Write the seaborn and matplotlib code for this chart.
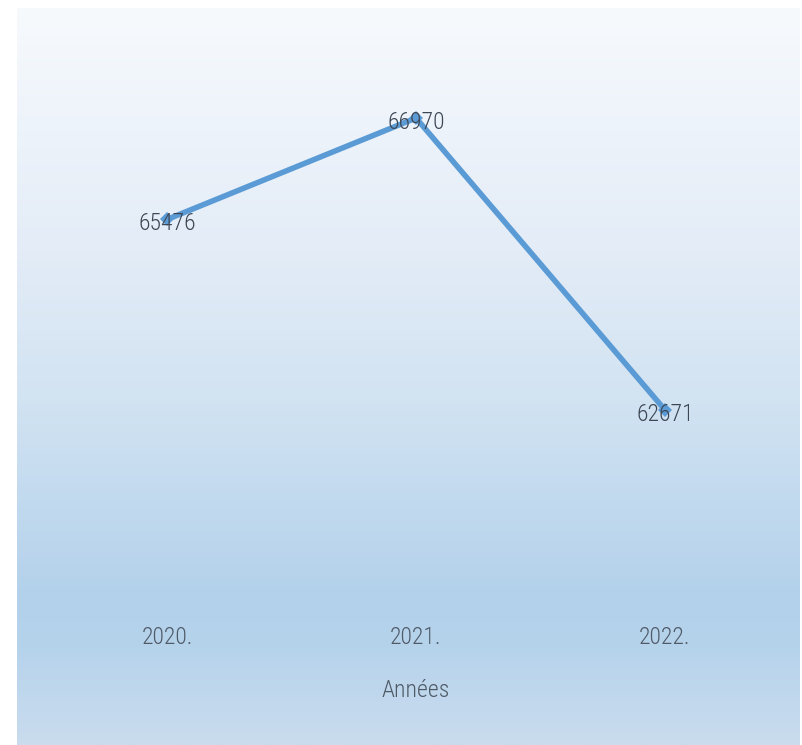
import numpy as np
import pandas as pd
import matplotlib
matplotlib.use("Agg")
import matplotlib.pyplot as plt
from matplotlib.colors import LinearSegmentedColormap
from matplotlib import font_manager
import seaborn as sns

# Yearly totals
years = ["2020.", "2021.", "2022."]
totals = [65476, 66970, 62671]
axis_title = "Années"

df = pd.DataFrame({"annee": years, "total": totals})

sns.set_theme(style="white")
names = {f.name for f in font_manager.fontManager.ttflist}
light_narrow = [n for n in ["Liberation Sans Narrow", "Open Sans Condensed Light",
                            "Roboto Condensed Light", "Roboto Condensed"] if n in names]
plt.rcParams["font.family"] = light_narrow + ["DejaVu Sans"]

W, H = 803, 745
fig = plt.figure(figsize=(W / 100, H / 100), dpi=100)
fig.patch.set_facecolor("white")

# Vertical gradient panel behind the chart
bg = fig.add_axes([17 / W, 0, (800 - 17) / W, (H - 8) / H], zorder=0)
bg_cmap = LinearSegmentedColormap.from_list(
    "panel",
    [(0.0, "#f7fafd"), (0.33, "#e3ecf7"), (0.53, "#d2e3f2"),
     (0.80, "#b3d1eb"), (0.87, "#b6d3ec"), (1.0, "#cadcee")],
)
bg.imshow(np.linspace(0, 1, 256).reshape(-1, 1), aspect="auto", cmap=bg_cmap,
          extent=[0, 1, 1, 0])
bg.set_axis_off()

# Plot area
left, right = 42.5, 789.5
top, bottom = 30, 600
ax = fig.add_axes([left / W, (H - bottom) / H, (right - left) / W, (bottom - top) / H],
                  zorder=1)
ax.patch.set_alpha(0)

sns.lineplot(data=df, x="annee", y="total", ax=ax, color="#5b9bd5", linewidth=4,
             marker="D", markersize=7, markeredgewidth=0, sort=False)

txt = dict(fontstretch="condensed", fontweight="light", fontsize=17)
if not light_narrow:
    txt = dict(fontstretch="condensed", fontweight="normal", fontsize=15)
for i, v in enumerate(totals):
    ax.annotate(str(v), (i, v), xytext=(0, -3), textcoords="offset points",
                ha="center", va="center", color="#3d4653", zorder=5, **txt)

ax.set_xlim(-0.5, 2.5)
ax.set_ylim(59873, 68266)
ax.set_yticks([])
ax.set_ylabel("")
ax.set_xticks(range(len(years)))
ax.set_xticklabels(years, color="#4f5a66", **txt)
ax.set_xlabel(axis_title, color="#4f5a66", labelpad=21, **txt)
ax.tick_params(axis="x", length=0, pad=19)
for s in ax.spines.values():
    s.set_visible(False)

fig.savefig("out.png", dpi=100, facecolor="white")
